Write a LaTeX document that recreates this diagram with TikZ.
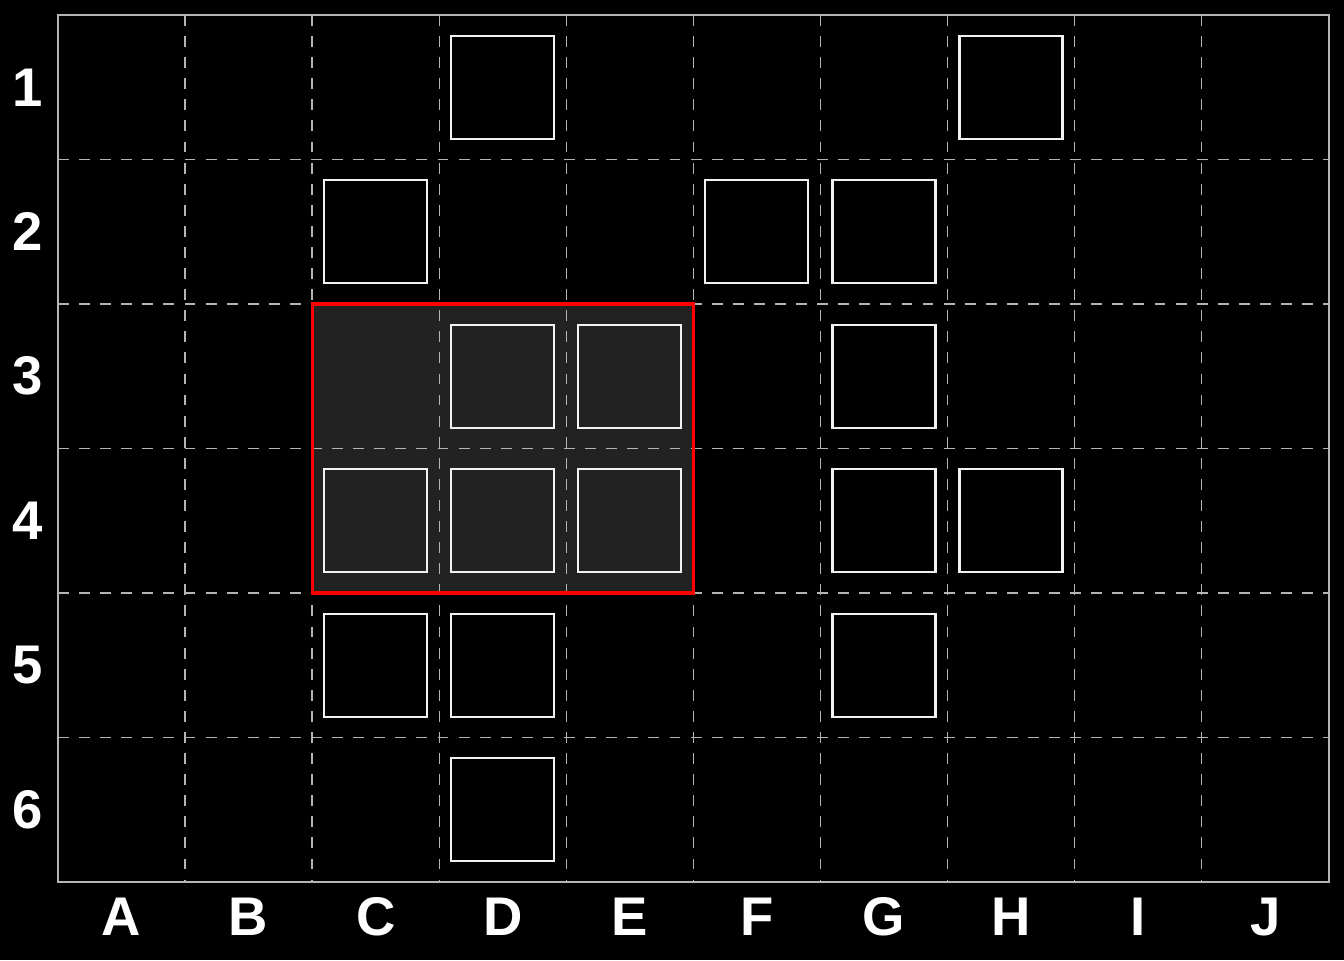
\documentclass[tikz,border=0pt]{standalone}
\usepackage{fontspec}
\setmainfont{Liberation Sans}
\usetikzlibrary{positioning}
\definecolor{gridline}{HTML}{B4B4B4}
\definecolor{boxline}{HTML}{F2F2F2}
\definecolor{selfill}{HTML}{222222}
\definecolor{selred}{HTML}{FF0000}
\tikzset{cell/.style={draw=boxline,line width=0.6pt,minimum width=1.03cm,minimum height=1.03cm,inner sep=0pt},
gridlab/.style={text=white,font=\fontsize{15.5}{18}\selectfont\bfseries,inner sep=0pt},
dashline/.style={draw=gridline,line width=0.4pt,dash pattern=on 3.1pt off 2.9pt},
frameline/.style={draw=gridline,line width=0.6pt},
selbox/.style={draw=selred,line width=0.9pt}}
\begin{document}
\begin{tikzpicture}[x=1.2707cm,y=-1.445cm]
\fill[black] (-0.4564,-0.1038) rectangle (10.1204,6.5398);
\useasboundingbox (-0.4564,-0.1038) rectangle (10.1204,6.5398);
% selected block C3--E4
\fill[selfill] (2,2) rectangle (5,4);
\foreach \i in {1,...,9} \draw[dashline] (\i,0) -- (\i,6);
\foreach \j in {1,...,5} \draw[dashline] (0,\j) -- (10,\j);
\draw[frameline] (0,0) rectangle (10,6);
% labels
\foreach \c/\l in {0/A,1/B,2/C,3/D,4/E,5/F,6/G,7/H,8/I,9/J}
  \node[gridlab] (col\l) at (\c+0.5,6.242) {\l};
\foreach \r in {1,...,6}
  \node[gridlab] (row\r) at (-0.236,\r-0.5) {\r};
% occupied cells
\foreach \c/\l/\r in {3/D/1,7/H/1,2/C/2,5/F/2,6/G/2,3/D/3,4/E/3,6/G/3,2/C/4,3/D/4,4/E/4,6/G/4,7/H/4,2/C/5,3/D/5,6/G/5,3/D/6}
  \node[cell] (sq\l\r) at (\c+0.5,\r-0.5) {};
\draw[selbox] (2,2) rectangle (5,4);
\end{tikzpicture}
\end{document}
